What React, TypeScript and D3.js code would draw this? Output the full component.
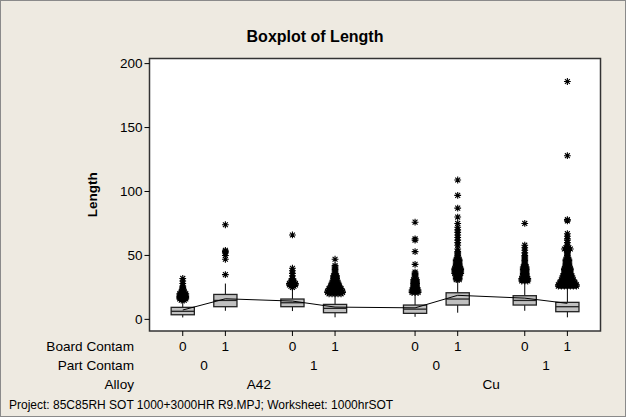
import React from "react";
import * as d3 from "d3";

// ---- data ----
const boardContam = ["0", "1", "0", "1", "0", "1", "0", "1"];
const partContam = ["0", "1", "0", "1"];
const alloys = ["A42", "Cu"];
const yTicks = [0, 50, 100, 150, 200];

const q1 = [3.6, 9.9, 9.9, 5.2, 4.7, 11.2, 11.2, 6.0];
const medians = [6.3, 14.8, 13.0, 8.6, 8.0, 15.9, 14.8, 9.9];
const q3 = [9.4, 19.5, 15.9, 11.7, 11.2, 20.8, 18.5, 13.3];
const whiskerLow = [1.5, 6.7, 6.5, 1.6, 2.0, 5.2, 6.7, 1.6];
const whiskerHigh = [14, 28, 24, 19, 20, 30.5, 29.4, 25.5];
const means = [7.3, 16.1, 14.3, 9.6, 9.0, 18.8, 16.6, 12.5];

const outliers1 = [15, 15, 16, 16, 16, 17, 17, 17, 18, 18, 18, 19, 19, 19, 20, 20, 20, 21, 21, 22, 22, 23, 24, 25, 26, 28, 30, 32];
const outliers2 = [35, 47, 50, 52, 53, 54, 74];
const outliers3 = [25, 26, 26, 27, 27, 27, 28, 28, 28, 29, 29, 30, 30, 31, 32, 34, 36, 38, 40, 66];
const outliers4 = [20, 20, 20, 20, 20, 21, 21, 21, 21, 21, 21, 22, 22, 22, 22, 22, 22, 23, 23, 23, 23, 23, 24, 24, 24, 24, 24, 25, 25, 25, 25, 26, 26, 26, 26, 27, 27, 27, 28, 28, 28, 29, 29, 29, 30, 30, 31, 31, 32, 32, 33, 33, 34, 34, 35, 36, 37, 38, 39, 40, 41, 42, 47];
const outliers5 = [21, 21, 21, 22, 22, 22, 23, 23, 23, 24, 24, 25, 25, 26, 26, 27, 27, 28, 28, 29, 29, 30, 30, 31, 31, 32, 33, 34, 35, 36, 37, 43, 53, 62, 63, 76];
const outliers6 = [31, 31, 32, 32, 33, 33, 34, 34, 35, 35, 36, 36, 36, 37, 37, 37, 38, 38, 38, 39, 39, 39, 40, 40, 40, 41, 41, 42, 42, 43, 43, 44, 44, 45, 45, 46, 46, 47, 47, 48, 49, 50, 51, 52, 53, 55, 58, 60, 62, 64, 66, 68, 70, 72, 75, 80, 87, 97, 109];
const outliers7 = [30, 30, 30, 31, 31, 31, 32, 32, 32, 33, 33, 34, 34, 35, 35, 36, 36, 37, 37, 38, 38, 39, 39, 40, 40, 41, 41, 42, 43, 44, 45, 46, 47, 48, 49, 50, 52, 54, 56, 58, 75];
const outliers8 = [26, 26, 26, 26, 26, 26, 26, 27, 27, 27, 27, 27, 27, 27, 28, 28, 28, 28, 28, 28, 29, 29, 29, 29, 29, 29, 30, 30, 30, 30, 30, 31, 31, 31, 31, 31, 32, 32, 32, 32, 33, 33, 33, 33, 34, 34, 34, 34, 35, 35, 35, 36, 36, 36, 37, 37, 37, 38, 38, 38, 39, 39, 39, 40, 40, 40, 41, 41, 42, 42, 43, 43, 44, 44, 45, 45, 46, 46, 47, 47, 48, 49, 50, 51, 52, 53, 54, 55, 55, 55, 56, 56, 57, 58, 60, 62, 63, 65, 67, 77, 78, 128, 186];
const outlierSets = [outliers1, outliers2, outliers3, outliers4, outliers5, outliers6, outliers7, outliers8];

const W = 626;
const H = 417;
const FONT = "Liberation Sans, Arial, sans-serif";

// group position: index + gap after part change + gap after alloy change
const PART_GAP = 0.573;
const ALLOY_GAP = 1.45;
const posOf = (i: number) => {
  const alloyIdx = Math.floor(i / 4);
  const partIdx = Math.floor(i / 2) % 2;
  return i + partIdx * PART_GAP + alloyIdx * ALLOY_GAP;
};

const plot = { left: 149.5, right: 600.5, top: 58.5, bottom: 331 };

function starPath(cx: number, cy: number, r: number) {
  const d = r * 0.72;
  return `M${cx},${cy - r}L${cx},${cy + r}M${cx - r},${cy}L${cx + r},${cy}M${cx - d},${cy - d}L${cx + d},${cy + d}M${cx - d},${cy + d}L${cx + d},${cy - d}`;
}

export default function App() {
  const x = d3.scaleLinear().domain([-0.78, 9.8]).range([plot.left, plot.right]);
  const y = d3.scaleLinear().domain([-9.1, 204]).range([plot.bottom, plot.top]);
  const bw = 11.6;

  const meanLine = d3
    .line<number>()
    .x((_, i) => x(posOf(i)))
    .y((d) => y(d))(means);

  const stars: { cx: number; cy: number }[] = [];
  outlierSets.forEach((set, i) => {
    const groups = d3.rollup(set, (v) => v.length, (v) => v);
    groups.forEach((k, val) => {
      for (let j = 0; j < k; j++) {
        stars.push({ cx: x(posOf(i)) + (j - (k - 1) / 2) * 3, cy: y(val) });
      }
    });
  });

  const partCenters = partContam.map((_, p) => (x(posOf(p * 2)) + x(posOf(p * 2 + 1))) / 2);
  const alloyCenters = alloys.map((_, a) => (x(posOf(a * 4)) + x(posOf(a * 4 + 3))) / 2);

  return (
    <div style={{ position: "fixed", left: 0, top: 0 }}>
      <svg width={W} height={H} style={{ display: "block" }} fontFamily={FONT}>
        <rect x={0.5} y={0.5} width={W - 1} height={H - 1} fill="#EEEAE1" stroke="#8a8a8a" />
        <text x={315} y={42} textAnchor="middle" fontSize={16} fontWeight="bold" fill="#000">
          Boxplot of Length
        </text>
        <rect
          x={plot.left}
          y={plot.top}
          width={plot.right - plot.left}
          height={plot.bottom - plot.top}
          fill="#fff"
          stroke="#333"
          strokeWidth={1.5}
        />
        {/* y axis */}
        {yTicks.map((t) => (
          <g key={t}>
            <line x1={plot.left - 5} x2={plot.left} y1={y(t)} y2={y(t)} stroke="#000" />
            <text x={plot.left - 7} y={y(t)} dy="0.36em" textAnchor="end" fontSize={13.5} fill="#000">
              {t}
            </text>
          </g>
        ))}
        <text
          transform={`translate(97,${(plot.top + plot.bottom) / 2}) rotate(-90)`}
          textAnchor="middle"
          fontSize={13.5}
          fontWeight="bold"
          fill="#000"
        >
          Length
        </text>
        {/* x ticks */}
        {boardContam.map((_, i) => (
          <line key={i} x1={x(posOf(i))} x2={x(posOf(i))} y1={plot.bottom} y2={plot.bottom + 5} stroke="#000" />
        ))}
        {/* outliers */}
        <g stroke="#000" strokeWidth={1.1} fill="none">
          {stars.map((s, i) => (
            <path key={i} d={starPath(s.cx, s.cy, 3.4)} />
          ))}
        </g>
        {/* boxes */}
        {q1.map((_, i) => {
          const cx = x(posOf(i));
          return (
            <g key={i}>
              <line x1={cx} x2={cx} y1={y(q3[i])} y2={y(whiskerHigh[i])} stroke="#000" />
              <line x1={cx} x2={cx} y1={y(q1[i])} y2={y(whiskerLow[i])} stroke="#000" />
              <rect
                x={cx - bw}
                y={y(q3[i])}
                width={bw * 2}
                height={y(q1[i]) - y(q3[i])}
                fill="#C0C0C0"
                stroke="#222"
                strokeWidth={1.3}
              />
              <line x1={cx - bw} x2={cx + bw} y1={y(medians[i])} y2={y(medians[i])} stroke="#222" strokeWidth={1.3} />
            </g>
          );
        })}
        <path d={meanLine || ""} fill="none" stroke="#000" strokeWidth={1} />
        {/* category rows */}
        <g fontSize={13.6} fill="#000">
          <text x={134} y={351} textAnchor="end">Board Contam</text>
          <text x={134} y={370} textAnchor="end">Part Contam</text>
          <text x={134} y={389} textAnchor="end">Alloy</text>
          {boardContam.map((b, i) => (
            <text key={i} x={x(posOf(i))} y={351} textAnchor="middle">{b}</text>
          ))}
          {partContam.map((p, i) => (
            <text key={i} x={partCenters[i]} y={370} textAnchor="middle">{p}</text>
          ))}
          {alloys.map((a, i) => (
            <text key={i} x={alloyCenters[i]} y={389} textAnchor="middle">{a}</text>
          ))}
        </g>
        <text x={9} y={409} fontSize={12} fill="#000">
          Project: 85C85RH SOT 1000+3000HR R9.MPJ; Worksheet: 1000hrSOT
        </text>
      </svg>
    </div>
  );
}
